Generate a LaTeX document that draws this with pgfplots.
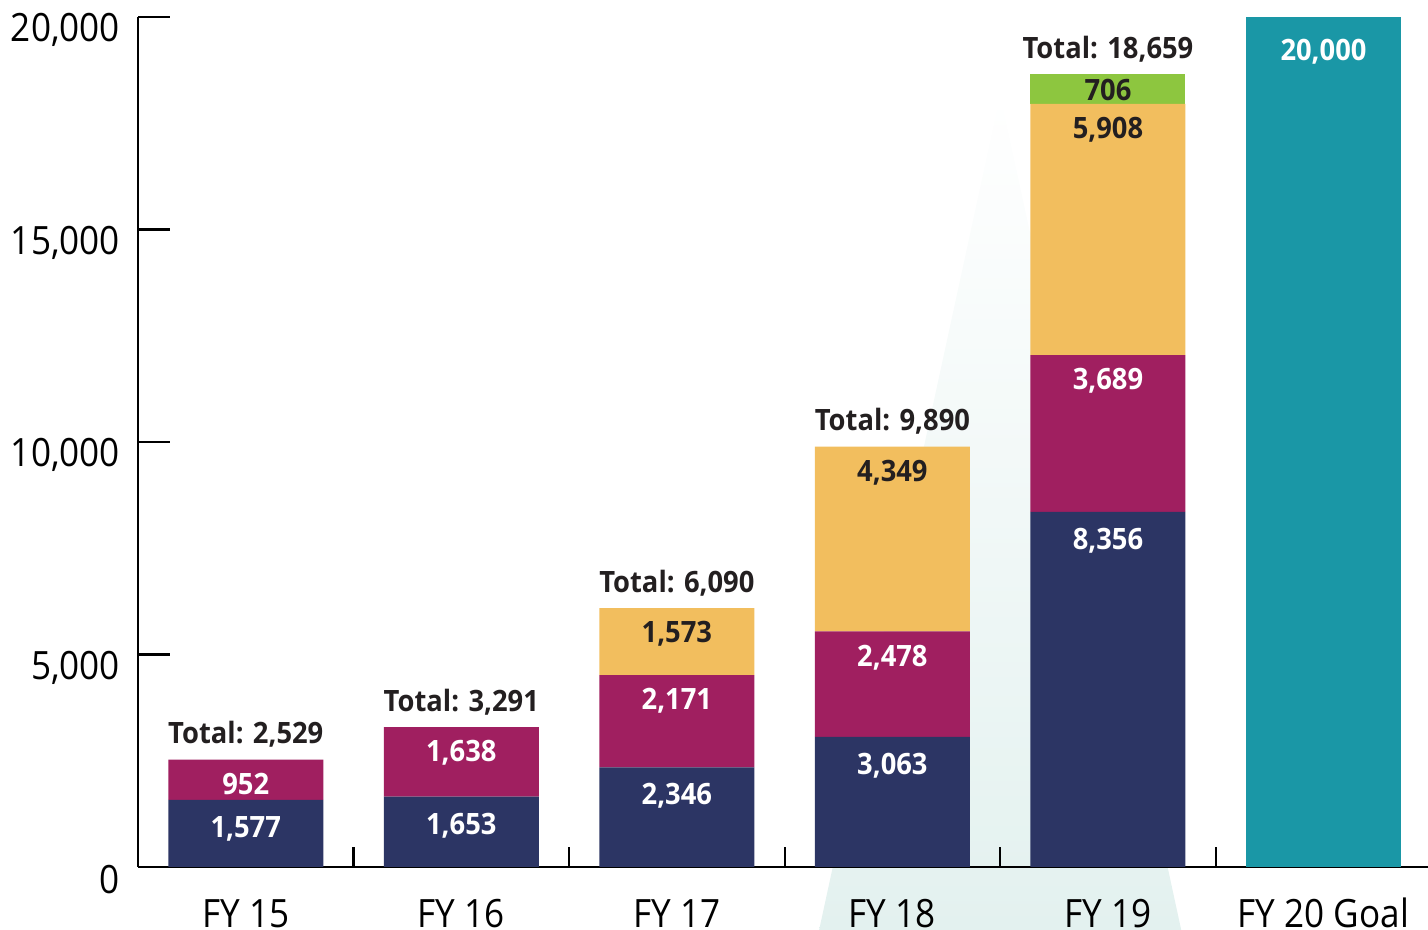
\documentclass[border=0pt]{standalone}
\usepackage{pgfplots}
\pgfplotsset{compat=1.18}
\usepackage{fontspec}
\setmainfont{Open Sans}[FakeStretch=0.9]
\newfontfamily\lblfont{Open Sans}[FakeStretch=0.93]
\definecolor{cnavy}{HTML}{2C3564}
\definecolor{cmag}{HTML}{A01F60}
\definecolor{cyel}{HTML}{F2BE5E}
\definecolor{cgrn}{HTML}{8DC63F}
\definecolor{cteal}{HTML}{1A97A6}
\definecolor{ctext}{HTML}{231F20}
\definecolor{tribot}{HTML}{E3F1EF}
\definecolor{trimid}{HTML}{D0EBE7}
\begin{document}
\begin{tikzpicture}
\pgfplotsset{base/.style={at={(0,0)}, anchor=south west, scale only axis,
  width=645pt, height=425pt, xmin=-0.5, xmax=5.485, ymin=0, ymax=20000}}
% decorative background triangle
\begin{axis}[base, hide axis, clip=false]
\path[top color=white, middle color=trimid, bottom color=tribot]
  (axis cs:2.66,-1482) -- (axis cs:3.5,18165) -- (axis cs:4.34,-1482) -- cycle;
\end{axis}
\begin{axis}[base,
  ybar stacked, bar width=77.5pt, clip=false,
  axis x line*=bottom, axis y line*=left,
  axis line style={-, line width=1.1pt, black},
  xtick={0,...,5},
  xticklabels={FY 15, FY 16, FY 17, FY 18, FY 19, FY 20 Goal},
  xtick style={draw=none},
  ytick={0,5000,10000,15000,20000},
  tick align=inside, major tick length=16pt,
  ytick style={line width=1.1pt, black},
  scaled y ticks=false,
  /pgf/number format/1000 sep={,},
  /pgf/number format/assume math mode=true,
  ticklabel style={font=\fontsize{19.5}{23}\selectfont, text=black},
  yticklabel style={xshift=-5.5pt, yshift=-6.5pt},
  xticklabel style={anchor=north, inner sep=0pt, text height=14pt, text depth=0pt, yshift=-16.3pt},
  point meta=explicit symbolic,
  nodes near coords={\pgfplotspointmeta},
  visualization depends on={rawy \as \rawy},
  every node near coord/.append style={font=\fontsize{14.7}{17}\lblfont\bfseries,
    text height=10.5pt, text depth=0pt, anchor=center, inner sep=0pt},
]
\addplot[fill=cnavy, draw=none, nodes near coords style={text=white, yshift=\rawy*0.010625pt-13.5pt}]
  coordinates {(0,1577) [1,577] (1,1653) [1,653] (2,2346) [2,346] (3,3063) [3,063] (4,8356) [8,356] (5,0) []};
\addplot[fill=cmag, draw=none, nodes near coords style={text=white, yshift=\rawy*0.010625pt-12pt}]
  coordinates {(0,952) [952] (1,1638) [1,638] (2,2171) [2,171] (3,2478) [2,478] (4,3689) [3,689] (5,0) []};
\addplot[fill=cyel, draw=none, nodes near coords style={text=ctext, yshift=\rawy*0.010625pt-12pt}]
  coordinates {(0,0) [] (1,0) [] (2,1573) [1,573] (3,4349) [4,349] (4,5908) [5,908] (5,0) []};
\addplot[fill=cgrn, draw=none, nodes near coords style={text=ctext, yshift=\rawy*0.010625pt-8pt}]
  coordinates {(0,0) [] (1,0) [] (2,0) [] (3,0) [] (4,706) [706] (5,0) []};
\addplot[fill=cteal, draw=none, nodes near coords style={text=white, yshift=196.1pt}]
  coordinates {(0,0) [] (1,0) [] (2,0) [] (3,0) [] (4,0) [] (5,20000) [20,000]};
\pgfplotsinvokeforeach{0.5,1.5,2.5,3.5,4.5}{
  \draw[line width=1.1pt, black] (axis cs:#1,0) -- (axis cs:#1,470);
}
\tikzset{tot/.style={font=\fontsize{14.7}{17}\lblfont\bfseries, text=ctext,
  text height=10.5pt, text depth=0pt, anchor=center, inner sep=0pt, yshift=13.2pt}}
\node[tot] at (axis cs:0,2529) {Total: 2,529};
\node[tot] at (axis cs:1,3291) {Total: 3,291};
\node[tot] at (axis cs:2,6090) {Total: 6,090};
\node[tot] at (axis cs:3,9890) {Total: 9,890};
\node[tot] at (axis cs:4,18659) {Total: 18,659};
\end{axis}
\pgfresetboundingbox
\path ([shift={(-69pt,-31.5pt)}]current axis.south west) rectangle ([shift={(0pt,8.5pt)}]current axis.north east);
\end{tikzpicture}
\end{document}
